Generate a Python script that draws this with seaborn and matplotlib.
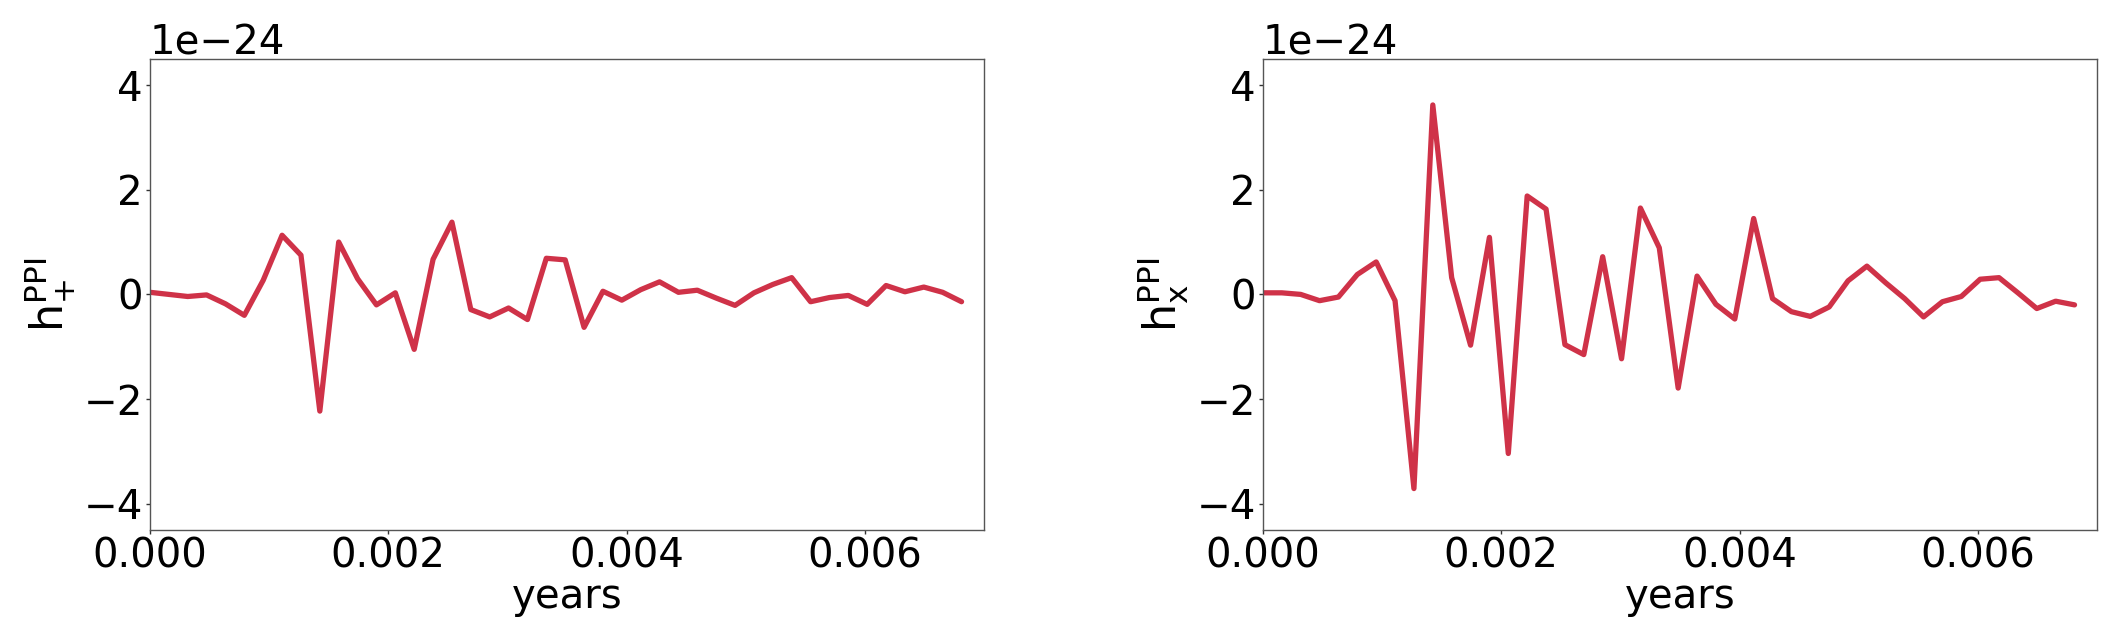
import numpy as np
import pandas as pd
import matplotlib
matplotlib.use("Agg")
import matplotlib.pyplot as plt
import seaborn as sns

# sampling step in years (5000 s)
dt_years = 0.0001584
n_samples = 44

h_plus = [0.04, 0.00, -0.04, -0.01, -0.18, -0.40, 0.27, 1.13, 0.75, -2.23,
          1.00, 0.30, -0.20, 0.03, -1.05, 0.67, 1.38, -0.29, -0.43, -0.26,
          -0.48, 0.69, 0.66, -0.63, 0.06, -0.11, 0.09, 0.24, 0.04, 0.08,
          -0.07, -0.21, 0.03, 0.19, 0.32, -0.14, -0.06, -0.02, -0.19, 0.17,
          0.05, 0.14, 0.04, -0.14]

h_cross = [0.03, 0.03, 0.00, -0.12, -0.05, 0.38, 0.62, -0.12, -3.71, 3.62,
           0.32, -0.97, 1.09, -3.04, 1.88, 1.63, -0.96, -1.15, 0.72, -1.23,
           1.65, 0.89, -1.79, 0.35, -0.19, -0.47, 1.45, -0.08, -0.33, -0.42,
           -0.24, 0.26, 0.54, 0.22, -0.08, -0.43, -0.14, -0.04, 0.29, 0.32,
           0.03, -0.27, -0.13, -0.20]

scale = 1e-24
years = np.arange(n_samples) * dt_years

df = pd.DataFrame({
    "years": years,
    "hp": np.array(h_plus) * scale,
    "hx": np.array(h_cross) * scale,
})

sns.set_theme(style="white")
plt.rcParams['font.family'] = ['DejaVu Sans']
plt.rcParams['text.color'] = 'black'
plt.rcParams['axes.labelcolor'] = 'black'
plt.rcParams['xtick.color'] = 'black'
plt.rcParams['ytick.color'] = 'black'

line_color = "#cf3248"
fs = 29

fig = plt.figure(figsize=(21.24, 6.4), dpi=100)
ax1 = fig.add_axes([0.0706, 0.172, 0.3927, 0.736])
ax2 = fig.add_axes([0.5946, 0.172, 0.3927, 0.736])

for ax, col, lab in [(ax1, "hp", r"$\mathregular{h_{+}^{PPI}}$"),
                     (ax2, "hx", r"$\mathregular{h_{x}^{PPI}}$")]:
    sns.lineplot(data=df, x="years", y=col, ax=ax, color=line_color, linewidth=3.8)
    ax.set_xlim(0, 0.007)
    ax.set_ylim(-4.5e-24, 4.5e-24)
    ax.set_xticks([0.0, 0.002, 0.004, 0.006])
    ax.set_yticks([-4e-24, -2e-24, 0, 2e-24, 4e-24])
    ax.xaxis.set_major_formatter(matplotlib.ticker.FormatStrFormatter('%.3f'))
    ax.ticklabel_format(axis='y', style='sci', scilimits=(0, 0))
    ax.yaxis.get_offset_text().set_fontsize(fs)
    ax.yaxis.get_offset_text().set_color('black')
    ax.tick_params(axis='both', labelsize=fs, length=3, width=1, color='#333333',
                   labelcolor='black', bottom=True, left=True, pad=2)
    ax.set_xlabel("years", fontsize=fs, labelpad=0, color='black')
    ax.set_ylabel(lab, fontsize=32, labelpad=4, color='black')
    for sp in ax.spines.values():
        sp.set_color('#555555')
        sp.set_linewidth(1.0)

fig.savefig("out.png", dpi=100)
